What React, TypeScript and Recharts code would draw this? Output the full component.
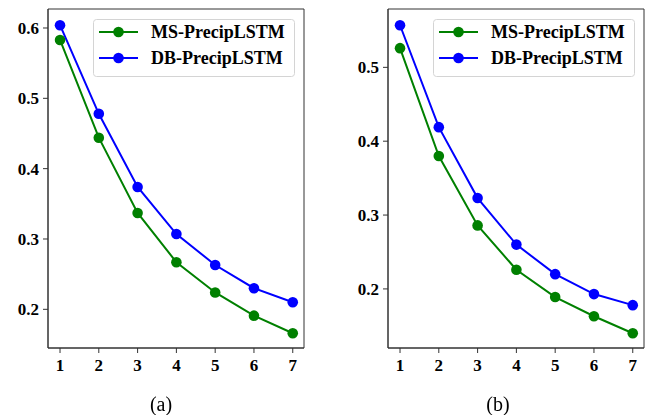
import React from 'react';
import { LineChart, Line, XAxis, YAxis, ReferenceArea } from 'recharts';

const steps = [1, 2, 3, 4, 5, 6, 7];
const msA = [0.583, 0.444, 0.337, 0.267, 0.224, 0.191, 0.166];
const dbA = [0.604, 0.478, 0.374, 0.307, 0.263, 0.230, 0.210];
const msB = [0.526, 0.380, 0.286, 0.226, 0.189, 0.163, 0.140];
const dbB = [0.557, 0.419, 0.323, 0.260, 0.220, 0.193, 0.178];
const yTicksA = [0.2, 0.3, 0.4, 0.5, 0.6];
const yTicksB = [0.2, 0.3, 0.4, 0.5];
const seriesNames = ['MS-PrecipLSTM', 'DB-PrecipLSTM'];

const GREEN = '#008000';
const BLUE = '#0000ff';
const AXIS = '#333';
const FONT = '"Liberation Serif", "Times New Roman", serif';
const X_DOMAIN: [number, number] = [0.69, 7.29];

const tickStyle = { fontSize: 17, fontWeight: 700, fill: '#000', fontFamily: FONT };

// legend drawn as a plain svg box on top of the plot, like matplotlib's
const LegendBox = ({ left }: { left: number }) => (
  <svg width={202} height={58} style={{ position: 'absolute', left, top: 19 }}>
    <rect x={0.5} y={0.5} width={201} height={57} rx={3} fill="rgba(255,255,255,0.8)" stroke="#d4d4d4" />
    {[GREEN, BLUE].map((c, i) => (
      <g key={i}>
        <line x1={6} x2={45} y1={13 + i * 26} y2={13 + i * 26} stroke={c} strokeWidth={2} />
        <circle cx={25.5} cy={13 + i * 26} r={5.3} fill={c} />
        <text x={58} y={13 + i * 26} dy="0.35em" fontSize={18} fontWeight={700} fontFamily={FONT} fill="#000">
          {seriesNames[i]}
        </text>
      </g>
    ))}
  </svg>
);

type PanelProps = {
  ms: number[];
  db: number[];
  yDomain: [number, number];
  yTicks: number[];
  width: number;
  yWidth: number;
  right: number;
};

const Panel: React.FC<PanelProps> = ({ ms, db, yDomain, yTicks, width, yWidth, right }) => {
  const data = steps.map((s, i) => ({ step: s, ms: ms[i], db: db[i] }));
  return (
    <LineChart width={width} height={415} data={data} margin={{ top: 9, right, bottom: 37, left: 0 }}>
      <XAxis
        dataKey="step"
        type="number"
        domain={X_DOMAIN}
        ticks={steps}
        allowDataOverflow
        stroke={AXIS}
        tickSize={5}
        tickMargin={6}
        height={30}
        tick={tickStyle}
      />
      <YAxis
        type="number"
        domain={yDomain}
        ticks={yTicks}
        allowDataOverflow
        width={yWidth}
        stroke={AXIS}
        tickSize={5}
        tickMargin={4}
        tick={tickStyle}
        tickFormatter={(v: number) => v.toFixed(1)}
      />
      {/* full frame round the plot */}
      <ReferenceArea
        x1={X_DOMAIN[0]}
        x2={X_DOMAIN[1]}
        y1={yDomain[0]}
        y2={yDomain[1]}
        fill="none"
        stroke={AXIS}
        strokeWidth={1}
        ifOverflow="visible"
      />
      <Line dataKey="ms" name={seriesNames[0]} stroke={GREEN} strokeWidth={2} dot={{ r: 5.3, fill: GREEN, stroke: GREEN, strokeWidth: 0 }} isAnimationActive={false} />
      <Line dataKey="db" name={seriesNames[1]} stroke={BLUE} strokeWidth={2} dot={{ r: 5.3, fill: BLUE, stroke: BLUE, strokeWidth: 0 }} isAnimationActive={false} />
    </LineChart>
  );
};

const captionStyle: React.CSSProperties = {
  position: 'absolute',
  top: 393,
  width: 60,
  textAlign: 'center',
  fontFamily: FONT,
  fontSize: 20,
  lineHeight: '22px',
  color: '#000',
};

export default function App() {
  return (
    <div style={{ position: 'fixed', left: 0, top: 0, width: 648, height: 415, background: '#fff' }}>
      <div style={{ position: 'absolute', left: 0, top: 0 }}>
        <Panel ms={msA} db={dbA} yDomain={[0.145, 0.627]} yTicks={yTicksA} width={324} yWidth={48} right={20} />
        <LegendBox left={93} />
      </div>
      <div style={{ position: 'absolute', left: 330, top: 0 }}>
        <Panel ms={msB} db={dbB} yDomain={[0.12, 0.579]} yTicks={yTicksB} width={318} yWidth={58} right={4} />
        <LegendBox left={103} />
      </div>
      <div style={{ ...captionStyle, left: 131 }}>(a)</div>
      <div style={{ ...captionStyle, left: 468 }}>(b)</div>
    </div>
  );
}
